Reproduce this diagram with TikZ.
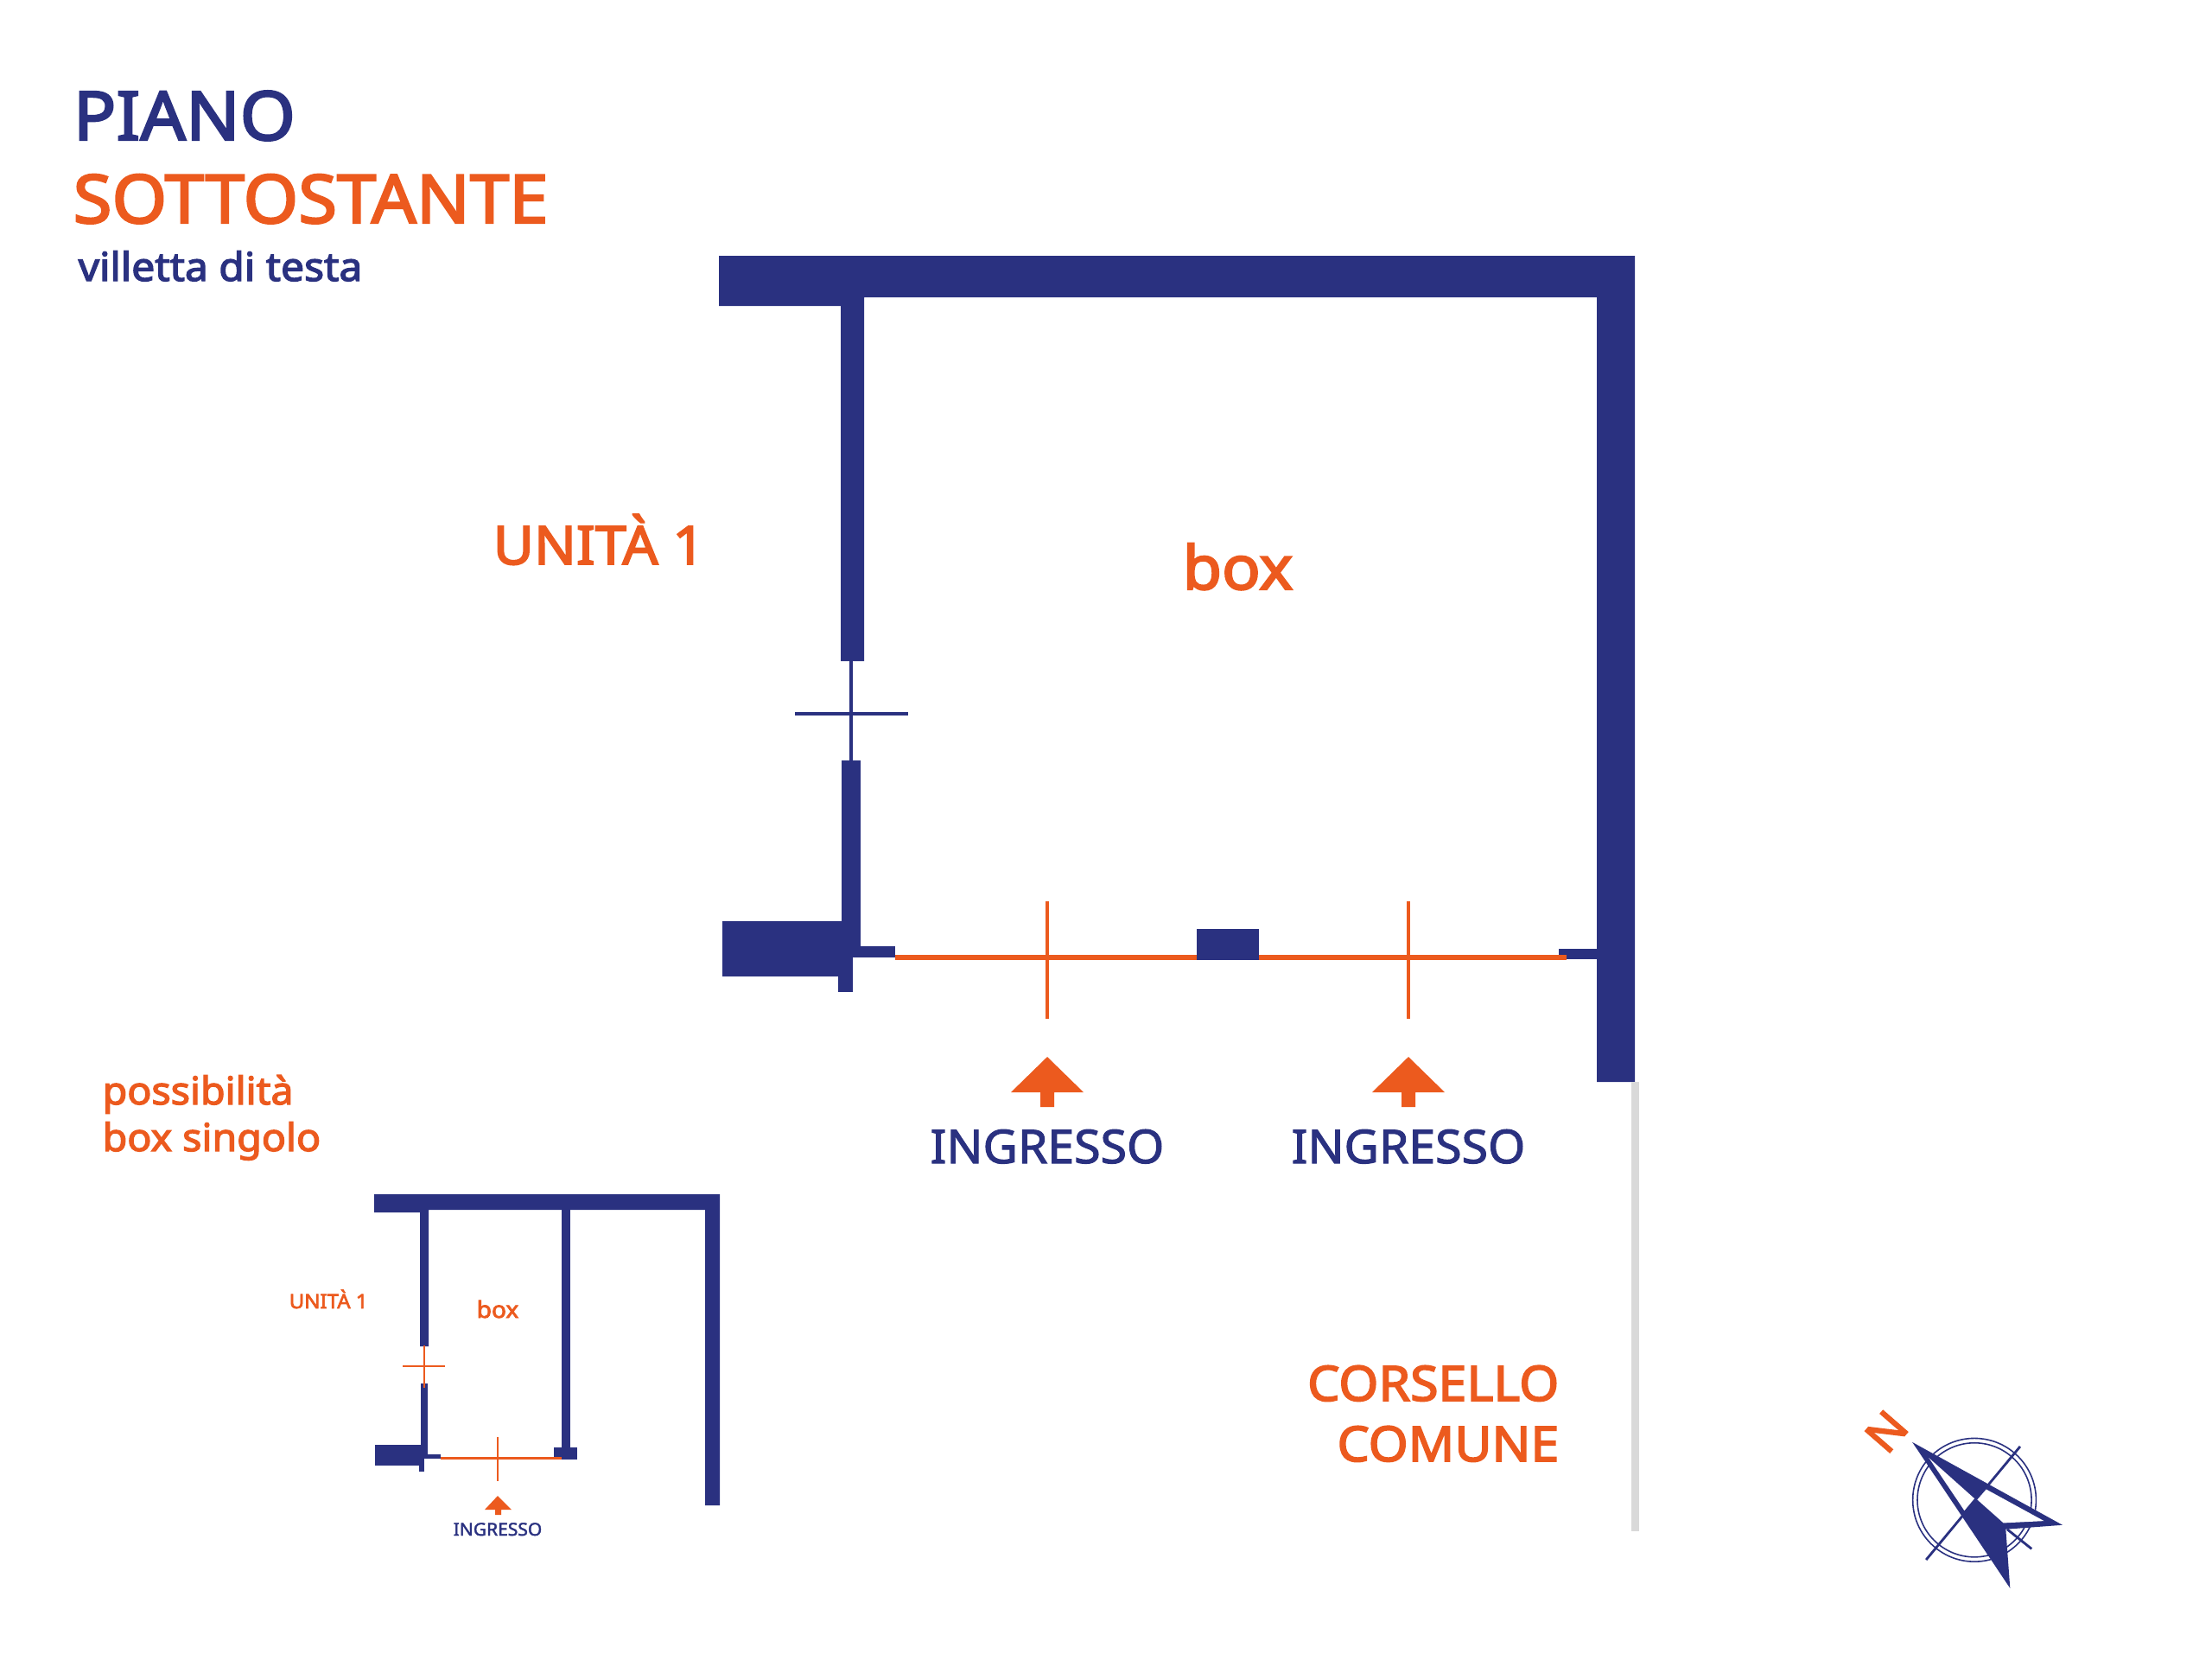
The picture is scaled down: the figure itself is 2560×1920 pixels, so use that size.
\documentclass[tikz,border=0pt]{standalone}
\usepackage{fontspec}
\setmainfont{Noto Sans}[FakeBold=3,FakeStretch=1.05]
\newfontfamily\medf{Noto Sans}[FakeBold=2,FakeStretch=1.03]
\definecolor{navy}{HTML}{2A3180}
\definecolor{ora}{HTML}{EC5A1E}
\definecolor{wall}{HTML}{D9D9D9}
\tikzset{x=0.01cm,y=-0.01cm,
 lbl/.style={inner sep=0,anchor=base west,font=\fontsize{#1}{#1}\selectfont},
 lbr/.style={inner sep=0,anchor=base east,font=\fontsize{#1}{#1}\selectfont},
 lbc/.style={inner sep=0,anchor=base,font=\fontsize{#1}{#1}\selectfont},
 lmc/.style={inner sep=0,anchor=base,font=\fontsize{#1}{#1}\selectfont\medf}}
\begin{document}
\begin{tikzpicture}
\useasboundingbox (0,0) rectangle (2560,1920);
\fill[white] (0,0) rectangle (2560,1920);
% titles
\node[lbl=22.3,text=navy] (t1) at (84,162) {PIANO};
\node[lbl=22.1,text=ora] (t2) at (84,258) {SOTTOSTANTE};
\node[lbl=13,text=navy] (t3) at (90,325) {villetta di testa};
\node[lbl=17.5,text=ora] (u1) at (570,653) {UNITÀ 1};
\node[lbl=20,text=ora] (b1) at (1368,682) {box};
\node[lbl=12.6,text=ora] (p1) at (118,1278) {possibilità};
\node[lbl=12.6,text=ora] (p2) at (118,1332) {box singolo};
% main plan
\fill[navy] (832,296) -- (1892,296) -- (1892,1252) -- (1848,1252) -- (1848,344) -- (1000,344) -- (1000,765) -- (973,765) -- (973,354) -- (832,354) -- cycle;
\fill[navy] (974,880) rectangle (996,1095);
\fill[navy] (836,1066) rectangle (987,1130);
\fill[navy] (970,1090) rectangle (987,1148);
\fill[navy] (974,1095) rectangle (1036,1108);
\fill[navy] (1385,1075) rectangle (1457,1111);
\fill[navy] (1804,1098) rectangle (1850,1110);
\draw[navy,line width=1.4pt] (985,765) -- (985,880);
\draw[navy,line width=1.4pt] (920,826) -- (1051,826);
\draw[ora,line width=1.5pt] (1036,1108) -- (1385,1108);
\draw[ora,line width=1.5pt] (1457,1108) -- (1813,1108);
\draw[ora,line width=1.4pt] (1212,1043) -- (1212,1179);
\draw[ora,line width=1.4pt] (1630,1043) -- (1630,1179);
\fill[ora] (1212,1223) -- (1254,1264) -- (1220,1264) -- (1220,1281) -- (1204,1281) -- (1204,1264) -- (1170,1264) -- cycle;
\fill[ora] (1630,1223) -- (1672,1264) -- (1638,1264) -- (1638,1281) -- (1622,1281) -- (1622,1264) -- (1588,1264) -- cycle;
\node[lmc=15.3,text=navy] (i1) at (1212,1346) {INGRESSO};
\node[lmc=15.3,text=navy] (i2) at (1630,1346) {INGRESSO};
\fill[wall] (1888,1252) rectangle (1897,1772);
\node[lbr=16,text=ora] (c1) at (1805,1621) {CORSELLO};
\node[lbr=16,text=ora] (c2) at (1805,1691) {COMUNE};
% small plan
\fill[navy] (433,1382) -- (833,1382) -- (833,1742) -- (816,1742) -- (816,1400) -- (496,1400) -- (496,1558) -- (486,1558) -- (486,1403) -- (433,1403) -- cycle;
\fill[navy] (650,1400) rectangle (660,1680);
\fill[navy] (487,1601) rectangle (495,1688);
\fill[navy] (434,1672) rectangle (491,1696);
\fill[navy] (485,1690) rectangle (491,1703);
\fill[navy] (490,1683) rectangle (510,1688);
\fill[navy] (641,1675) rectangle (668,1689);
\draw[ora,line width=0.9pt] (510,1687.5) -- (650,1687.5);
\draw[ora,line width=0.5pt] (576,1663) -- (576,1714);
\draw[ora,line width=0.55pt] (466,1581) -- (515,1581);
\draw[ora,line width=0.5pt] (491,1557) -- (491,1606);
\fill[ora] (576,1731) -- (592,1747) -- (580,1747) -- (580,1753) -- (573,1753) -- (573,1747) -- (561,1747) -- cycle;
\node[lmc=5.8,text=navy] (i3) at (576,1777) {INGRESSO};
\node[lbl=6.5,text=ora] (u2) at (334,1514) {UNITÀ 1};
\node[lbc=7.6,text=ora] (b2) at (576,1525) {box};
% compass
\begin{scope}[shift={(2100,1600)},x=0.00333cm,y=-0.00333cm]
\draw[navy,line width=0.45pt] (556,408) circle[radius=0.7133cm];
\draw[navy,line width=0.45pt] (556,408) circle[radius=0.66cm];
\draw[navy,line width=0.8pt] (388,616) -- (715,222);
\draw[navy,line width=0.8pt] (670,510) -- (755,578);
\fill[navy] (340,207) -- (862,495) -- (665,510) -- (680,715) -- cycle;
\fill[white] (398,262) -- (556,403) -- (521,445) -- cycle;
\fill[white] (597,371) -- (798,481) -- (657,488) -- (566,407) -- cycle;
\node[inner sep=0,rotate=49,font=\fontsize{15}{15}\selectfont,text=ora] (n) at (250,170) {N};
\end{scope}
\end{tikzpicture}
\end{document}
